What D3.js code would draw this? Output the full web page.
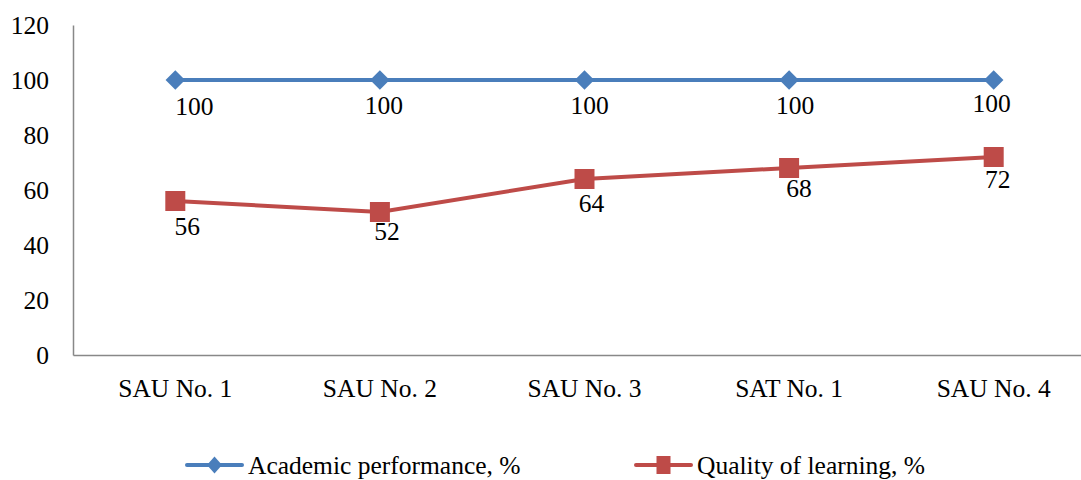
<!DOCTYPE html>
<html>
<head>
<meta charset="utf-8">
<script src="https://cdn.jsdelivr.net/npm/d3@7"></script>
<style>
  html, body { margin: 0; padding: 0; background: #fff; }
  svg text { font-family: "Liberation Serif", "Times New Roman", serif; fill: #000; }
</style>
</head>
<body>
<svg id="chart" width="1081" height="480"></svg>
<script>
// Data
const categories = ["SAU No. 1", "SAU No. 2", "SAU No. 3", "SAT No. 1", "SAU No. 4"];
const academicPerformance = [100, 100, 100, 100, 100];
const qualityOfLearning = [56, 52, 64, 68, 72];
const yTicks = [0, 20, 40, 60, 80, 100, 120];
const seriesNames = ["Academic performance, %", "Quality of learning, %"];

// Value-label placement relative to each marker (dx, baseline drop)
const academicLabelDx = [19, 4, 5, 6, -2];
const academicLabelDrop = [35, 34, 34, 34, 32];
const qualityLabelDx = [12, 7, 7, 10, 4];
const qualityLabelDrop = [34, 28, 33, 29, 31];

const blue = "#4a7ebb";
const red = "#be4b48";
const fontSize = 25.5;

const svg = d3.select("#chart");

const x = d3.scaleBand().domain(categories).range([73, 1096]);
const y = d3.scaleLinear().domain([0, 120]).range([355, 25]);

// Axes: grey lines, no tick marks
const yAxis = svg.append("g")
  .attr("transform", `translate(${x.range()[0]},0)`)
  .call(d3.axisLeft(y).tickValues(yTicks).tickSize(0).tickPadding(24));
yAxis.attr("font-family", null);
yAxis.select(".domain").attr("stroke", "#888").attr("stroke-width", 1.5);
yAxis.selectAll("text").attr("font-size", fontSize);

const xAxis = svg.append("g")
  .attr("transform", `translate(0,${y(0)})`)
  .call(d3.axisBottom(x).tickSize(0).tickPadding(24));
xAxis.attr("font-family", null);
xAxis.select(".domain").attr("stroke", "#888").attr("stroke-width", 1.5);
xAxis.selectAll("text").attr("font-size", fontSize);

const cx = d => x(d) + x.bandwidth() / 2;
const line = d3.line().x((d, i) => cx(categories[i])).y(d => y(d));

// Academic performance: line with diamond markers
svg.append("path")
  .datum(academicPerformance)
  .attr("fill", "none").attr("stroke", blue).attr("stroke-width", 4)
  .attr("d", line);

svg.selectAll(".acad")
  .data(academicPerformance)
  .join("path")
  .attr("class", "acad")
  .attr("transform", (d, i) => `translate(${cx(categories[i])},${y(d)}) rotate(45)`)
  .attr("d", d3.symbol().type(d3.symbolSquare).size(190))
  .attr("fill", blue);

svg.selectAll(".acadLabel")
  .data(academicPerformance)
  .join("text")
  .attr("class", "acadLabel")
  .attr("x", (d, i) => cx(categories[i]) + academicLabelDx[i])
  .attr("y", (d, i) => y(d) + academicLabelDrop[i])
  .attr("text-anchor", "middle")
  .attr("font-size", fontSize)
  .text(d => d);

// Quality of learning: line with square markers
svg.append("path")
  .datum(qualityOfLearning)
  .attr("fill", "none").attr("stroke", red).attr("stroke-width", 4)
  .attr("d", line);

svg.selectAll(".qual")
  .data(qualityOfLearning)
  .join("path")
  .attr("class", "qual")
  .attr("transform", (d, i) => `translate(${cx(categories[i])},${y(d)})`)
  .attr("d", d3.symbol().type(d3.symbolSquare).size(400))
  .attr("fill", red);

svg.selectAll(".qualLabel")
  .data(qualityOfLearning)
  .join("text")
  .attr("class", "qualLabel")
  .attr("x", (d, i) => cx(categories[i]) + qualityLabelDx[i])
  .attr("y", (d, i) => y(d) + qualityLabelDrop[i])
  .attr("text-anchor", "middle")
  .attr("font-size", fontSize)
  .text(d => d);

// Legend
const legendY = 465;
const legendItems = [
  { name: seriesNames[0], color: blue, x: 187, marker: "diamond" },
  { name: seriesNames[1], color: red, x: 636, marker: "square" }
];
legendItems.forEach(it => {
  const g = svg.append("g").attr("transform", `translate(${it.x},${legendY})`);
  g.append("line").attr("x1", 0).attr("x2", 55).attr("y1", 0).attr("y2", 0)
    .attr("stroke", it.color).attr("stroke-width", 4).attr("stroke-linecap", "round");
  if (it.marker === "diamond") {
    g.append("path").attr("d", "M27.5,-8.5L35,0L27.5,8.5L20,0Z").attr("fill", it.color);
  } else {
    g.append("rect").attr("x", 20.5).attr("y", -9).attr("width", 14).attr("height", 18)
      .attr("fill", it.color);
  }
  g.append("text").attr("x", 61).attr("y", 0).attr("dy", "0.34em")
    .attr("font-size", fontSize).text(it.name);
});
</script>
</body>
</html>
